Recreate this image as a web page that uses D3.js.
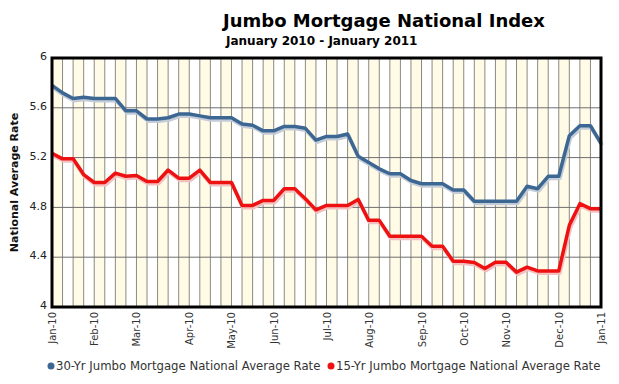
<!DOCTYPE html>
<html>
<head>
<meta charset="utf-8">
<script src="https://cdn.jsdelivr.net/npm/d3@7"></script>
<style>
  body { margin: 0; background: #fff; }
  svg { font-family: "DejaVu Sans", Verdana, sans-serif; }
</style>
</head>
<body>
<svg width="619" height="384"></svg>
<script>
// weekly readings, Jan-10 .. Jan-11
var rate30 = [5.78, 5.72, 5.675, 5.685, 5.675, 5.675, 5.675, 5.576, 5.576, 5.51,
  5.51, 5.52, 5.55, 5.55, 5.535, 5.52, 5.52, 5.52, 5.47, 5.46,
  5.415, 5.415, 5.45, 5.45, 5.435, 5.34, 5.37, 5.37, 5.39, 5.21,
  5.16, 5.11, 5.07, 5.07, 5.016, 4.99, 4.99, 4.99, 4.94, 4.94,
  4.85, 4.85, 4.85, 4.85, 4.85, 4.97, 4.95, 5.05, 5.05, 5.376,
  5.456, 5.456, 5.315];
var rate15 = [5.234, 5.19, 5.19, 5.064, 5.0, 5.0, 5.075, 5.05, 5.056, 5.008,
  5.008, 5.10, 5.035, 5.035, 5.10, 5.0, 5.0, 5.0, 4.816, 4.816,
  4.856, 4.856, 4.95, 4.95, 4.87, 4.78, 4.816, 4.816, 4.816, 4.864,
  4.696, 4.696, 4.568, 4.568, 4.568, 4.568, 4.488, 4.488, 4.368, 4.368,
  4.358, 4.31, 4.36, 4.36, 4.28, 4.32, 4.29, 4.29, 4.29, 4.656,
  4.83, 4.79, 4.79];
var monthWeeks = [0, 4, 8, 13, 17, 21, 26, 30, 35, 39, 43, 48, 52];
var monthLabels = ["Jan-10", "Feb-10", "Mar-10", "Apr-10", "May-10", "Jun-10", "Jul-10",
  "Aug-10", "Sep-10", "Oct-10", "Nov-10", "Dec-10", "Jan-11"];
var yTicks = [4, 4.4, 4.8, 5.2, 5.6, 6];
var seriesNames = ["30-Yr Jumbo Mortgage National Average Rate", "15-Yr Jumbo Mortgage National Average Rate"];

var svg = d3.select("svg"),
    plotLeft = 52, plotRight = 601, plotTop = 58, plotBottom = 307;

var x = d3.scaleLinear().domain([0, rate30.length - 1]).range([plotLeft, plotRight]),
    y = d3.scaleLinear().domain([4, 6]).range([plotBottom, plotTop]);

var weeks = d3.range(rate30.length);

// alternating week bands
svg.append("g").selectAll("rect")
    .data(weeks.slice(0, -1).filter(function(i) { return i % 2 == 0; }))
  .enter().append("rect")
    .attr("x", function(i) { return x(i); })
    .attr("y", plotTop)
    .attr("width", function(i) { return x(i + 1) - x(i); })
    .attr("height", plotBottom - plotTop)
    .attr("fill", "#fffbe6");

// grid
svg.append("g").selectAll("line")
    .data(weeks)
  .enter().append("line")
    .attr("x1", function(i) { return x(i); })
    .attr("x2", function(i) { return x(i); })
    .attr("y1", plotTop).attr("y2", plotBottom)
    .attr("stroke", "#8a8a80").attr("stroke-width", 1);

svg.append("g").selectAll("line")
    .data(yTicks)
  .enter().append("line")
    .attr("x1", plotLeft).attr("x2", plotRight)
    .attr("y1", function(d) { return y(d); })
    .attr("y2", function(d) { return y(d); })
    .attr("stroke", "#6e6e6e").attr("stroke-width", 1);

var line = function(arr) {
  return d3.line()
      .x(function(d, i) { return x(i); })
      .y(function(d) { return y(d); })(arr);
};

var series = [
  {values: rate30, color: "#3d6793", shadow: "#c4ccd8"},
  {values: rate15, color: "#ee1111", shadow: "#f2c0c0"}
];

series.forEach(function(s) {
  svg.append("path")
      .attr("d", line(s.values))
      .attr("transform", "translate(1,2)")
      .attr("fill", "none")
      .attr("stroke", s.shadow)
      .attr("stroke-width", 4)
      .attr("stroke-linejoin", "round");
});
series.forEach(function(s) {
  svg.append("path")
      .attr("d", line(s.values))
      .attr("fill", "none")
      .attr("stroke", s.color)
      .attr("stroke-width", 3.5)
      .attr("stroke-linejoin", "round");
});

// frame
svg.append("rect")
    .attr("x", plotLeft).attr("y", plotTop)
    .attr("width", plotRight - plotLeft).attr("height", plotBottom - plotTop)
    .attr("fill", "none").attr("stroke", "#000").attr("stroke-width", 3);

// y axis labels
svg.append("g").selectAll("text")
    .data(yTicks)
  .enter().append("text")
    .attr("x", plotLeft - 5)
    .attr("y", function(d) { return y(d); })
    .attr("dy", "0.2em")
    .attr("text-anchor", "end")
    .attr("font-size", 11)
    .attr("fill", "#222")
    .text(function(d) { return d; });

// x axis labels
svg.append("g").selectAll("text")
    .data(monthWeeks)
  .enter().append("text")
    .attr("transform", function(d) { return "translate(" + (x(d) + 4) + "," + (plotBottom + 5) + ") rotate(-90)"; })
    .attr("text-anchor", "end")
    .attr("font-size", 10)
    .attr("fill", "#333")
    .text(function(d, i) { return monthLabels[i]; });

svg.append("text")
    .attr("transform", "translate(18," + ((plotTop + plotBottom) / 2) + ") rotate(-90)")
    .attr("text-anchor", "middle")
    .attr("font-size", 11)
    .attr("font-weight", "bold")
    .attr("fill", "#111")
    .text("National Average Rate");

svg.append("text")
    .attr("x", 223).attr("y", 27)
    .attr("font-size", 18)
    .attr("font-weight", "bold")
    .attr("fill", "#000")
    .text("Jumbo Mortgage National Index");

svg.append("text")
    .attr("x", 226).attr("y", 45)
    .attr("font-size", 12)
    .attr("font-weight", "bold")
    .attr("fill", "#000")
    .text("January 2010 - January 2011");

// legend
var legendX = [51, 331];
series.forEach(function(s, i) {
  svg.append("circle")
      .attr("cx", legendX[i]).attr("cy", 366)
      .attr("r", 3.5).attr("fill", s.color);
  svg.append("text")
      .attr("x", legendX[i] + 5).attr("y", 370)
      .attr("font-size", 11.7)
      .attr("fill", "#333")
      .text(seriesNames[i]);
});
</script>
</body>
</html>
